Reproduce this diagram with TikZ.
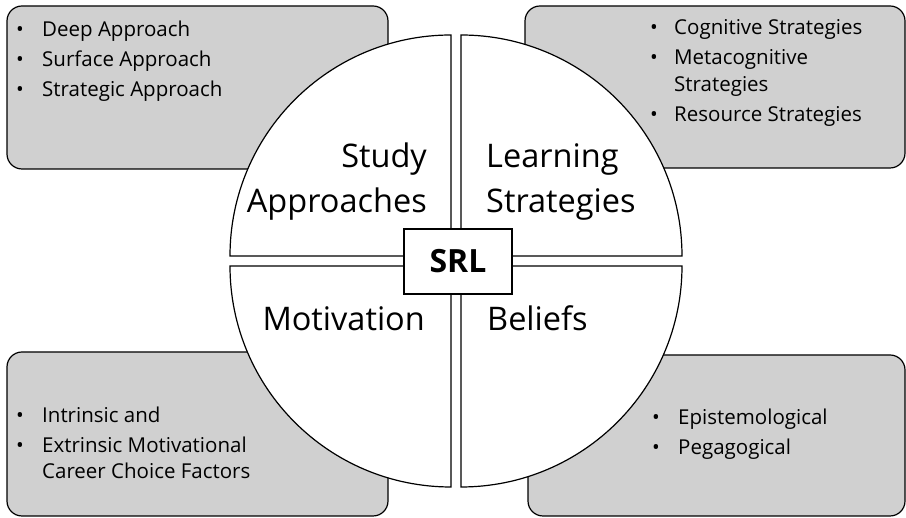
\documentclass[tikz,border=0pt]{standalone}
\usepackage{fontspec}
\setmainfont{Open Sans}
\begin{document}
\begin{tikzpicture}[x=1pt,y=1pt,
  infobox/.style={draw=black,line width=1.2pt,fill=boxgray,rounded corners=15pt},
  quarter/.style={draw=black,line width=1.2pt,fill=white},
  biglabel/.style={inner sep=0pt,font=\fontsize{32.5}{36}\selectfont},
  item/.style={inner sep=0pt,anchor=base west,font=\fontsize{20.5}{24}\selectfont},
  dot/.style={inner sep=0pt,anchor=base,font=\fontsize{20.5}{24}\selectfont}]
\definecolor{boxgray}{RGB}{208,208,208}
\useasboundingbox (0,0) rectangle (906,518);

% grey detail boxes behind the circle
\draw[infobox] (7,349) rectangle (388,512);
\draw[infobox] (525,350) rectangle (905,512);
\draw[infobox] (7,2) rectangle (388,166);
\draw[infobox] (528,2) rectangle (905,163);

% four quarter-discs
\draw[quarter] (451,262) -- (451,483) arc[start angle=90,end angle=180,radius=221] -- cycle;
\draw[quarter] (461,262) -- (682,262) arc[start angle=0,end angle=90,radius=221] -- cycle;
\draw[quarter] (451,252) -- (230,252) arc[start angle=180,end angle=270,radius=221] -- cycle;
\draw[quarter] (461,252) -- (461,31) arc[start angle=270,end angle=360,radius=221] -- cycle;

% central box
\node[draw=black,line width=2.8pt,fill=white,minimum width=108pt,minimum height=65pt,
  inner sep=0pt,font=\fontsize{32}{36}\selectfont\bfseries] (srl) at (458,256.5) {SRL};

% quarter titles
\node[biglabel,anchor=base east] (sa1) at (427,350) {Study};
\node[biglabel,anchor=base east] (sa2) at (427,305) {Approaches};
\node[biglabel,anchor=base west] (ls1) at (486,350) {Learning};
\node[biglabel,anchor=base west] (ls2) at (486,305) {Strategies};
\node[biglabel,anchor=base east] (mo) at (425,187) {Motivation};
\node[biglabel,anchor=base west] (be) at (487,187) {Beliefs};

% study approaches list
\node[dot] (b1) at (20,481) {•};
\node[item] (t1) at (42,481) {Deep Approach};
\node[dot] (b2) at (20,451) {•};
\node[item] (t2) at (42,451) {Surface Approach};
\node[dot] (b3) at (20,421) {•};
\node[item] (t3) at (42,421) {Strategic Approach};

% learning strategies list
\node[dot] (b4) at (654,483) {•};
\node[item] (t4) at (674,483) {Cognitive Strategies};
\node[dot] (b5) at (654,453) {•};
\node[item] (t5) at (674,453) {Metacognitive};
\node[item] (t5b) at (674,426) {Strategies};
\node[dot] (b6) at (654,396) {•};
\node[item] (t6) at (674,396) {Resource Strategies};

% motivation list
\node[dot] (b7) at (20,95) {•};
\node[item] (t7) at (42,95) {Intrinsic and};
\node[dot] (b8) at (20,65) {•};
\node[item] (t8) at (42,65) {Extrinsic Motivational};
\node[item] (t8b) at (42,39) {Career Choice Factors};

% beliefs list
\node[dot] (b9) at (656,93) {•};
\node[item] (t9) at (678,93) {Epistemological};
\node[dot] (b10) at (656,63) {•};
\node[item] (t10) at (678,63) {Pegagogical};
\end{tikzpicture}
\end{document}
